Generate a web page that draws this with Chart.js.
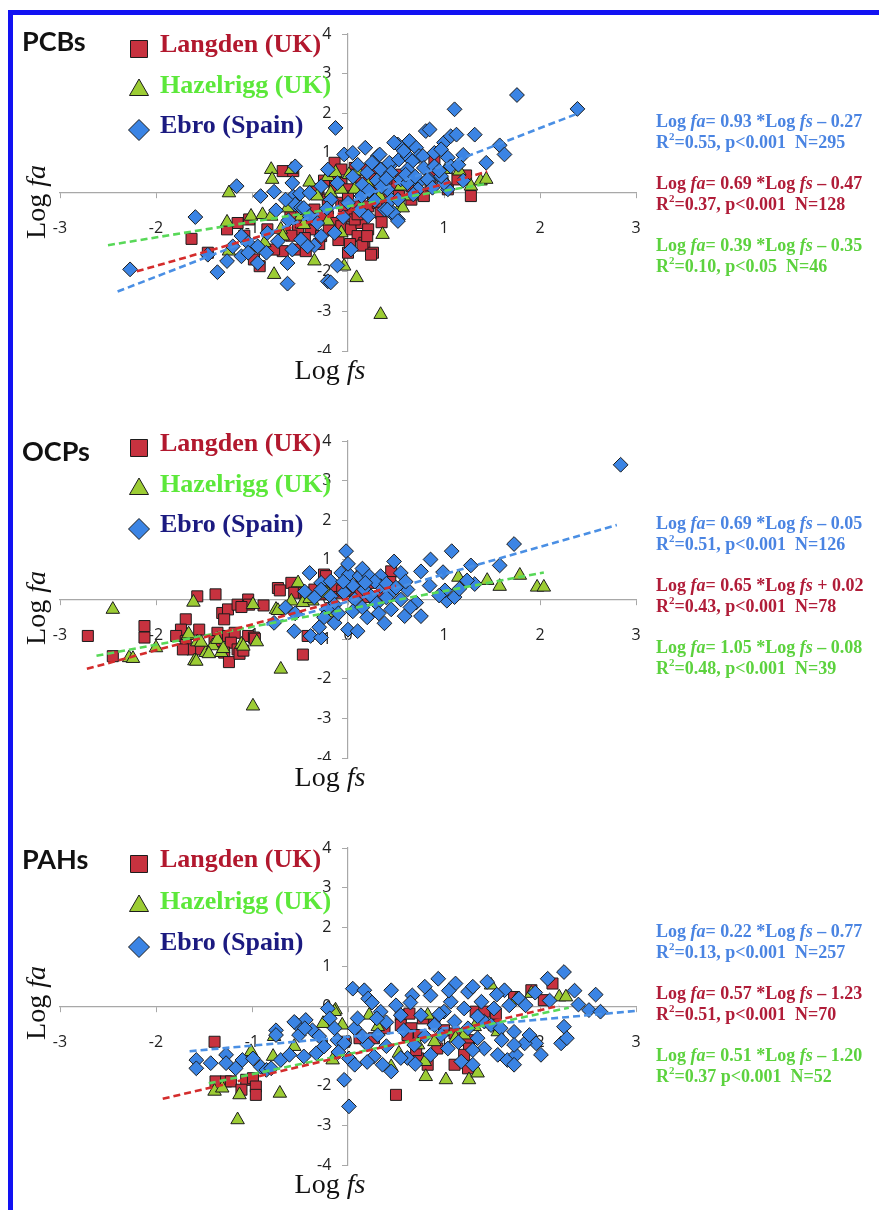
<!DOCTYPE html>
<html>
<head>
<meta charset="utf-8">
<script src="https://cdn.jsdelivr.net/npm/chart.js@4.4.1/dist/chart.umd.min.js"></script>
<style>
html,body{margin:0;padding:0;background:#fff;overflow:hidden;}
#page{position:relative;width:879px;height:1210px;overflow:hidden;}
#frame{position:absolute;left:8px;top:10px;width:900px;height:1300px;border-left:5px solid #1212f2;border-top:5px solid #1212f2;}
canvas{position:absolute;left:0;}
</style>
</head>
<body>
<div id="page">
<div id="frame"></div>
<canvas id="pcbChart" width="879" height="407" style="top:0px"></canvas>
<canvas id="ocpChart" width="879" height="407" style="top:407px"></canvas>
<canvas id="pahChart" width="879" height="407" style="top:814px"></canvas>
</div>
<script>
// sites, always in this order: Langden, Hazelrigg, Ebro
const siteNames = ["Langden (UK)", "Hazelrigg (UK)", "Ebro (Spain)"];
const xRange = [-3, 3];
const yRange = [-4, 4];

// ---- PCBs: [Log fs, Log fa]
const pcbLangden = [[-1.63,-1.17],[-0.68,0.54],[-0.57,0.54],[-1.15,-0.77],[-1.03,-0.68],[-0.98,-1.69],[-0.92,-1.86],[-0.68,-1.48],[-0.54,-1.44],[-0.44,-1.48],[-0.84,-0.93],[-0.66,-1.02],[-0.52,-0.93],[-0.39,-0.93],[-0.28,-1.10],[-0.77,-1.44],[-0.35,-0.68],[-0.21,-0.60],[-0.14,-0.77],[-0.07,-0.85],[0.03,-0.93],[0.14,-0.77],[0.21,-0.93],[0.10,-1.10],[0.17,-1.27],[0.26,-1.52],[0.00,-1.52],[0.15,-1.34],[-0.14,0.75],[-0.07,0.58],[0.07,0.62],[0.17,0.58],[0.24,0.41],[-0.18,0.41],[-0.14,0.16],[-0.07,0.24],[0.00,0.08],[0.14,0.08],[0.21,-0.01],[0.27,0.16],[-0.32,0.08],[-0.21,-0.18],[-0.07,-0.26],[0.07,-0.35],[0.21,-0.35],[0.31,-0.26],[-0.49,-0.43],[-0.35,-0.43],[-0.28,-0.60],[0.90,0.83],[0.86,0.50],[1.28,-0.09],[0.53,-0.09],[0.66,-0.18],[0.79,-0.09],[1.04,0.08],[0.07,0.45],[0.14,0.25],[-0.04,-0.35],[0.00,-0.60],[0.07,-0.68],[0.34,-0.51],[0.41,-0.18],[0.48,0.20],[0.66,0.16],[0.86,0.18],[1.14,0.33],[1.23,0.43],[-0.49,-0.76],[-0.59,-1.09],[-1.26,-0.93],[-1.08,-1.09],[-1.46,-1.52],[0.24,-1.57],[0.00,-0.10],[0.10,-0.55],[-0.20,-0.95],[-0.10,-1.20],[0.20,-1.10],[0.35,-0.75],[-0.45,-1.15],[-0.60,-0.60],[0.40,0.35],[0.55,0.45],[0.30,0.62],[-0.25,0.30],[0.02,-1.30],[-0.30,-1.30]];
const pcbHazelrigg = [[-1.24,-0.01],[-1.26,-0.75],[-0.80,0.58],[-0.79,0.33],[-0.59,0.58],[-0.40,0.26],[-1.24,-1.48],[-1.01,-0.60],[-0.89,-0.56],[-0.80,-0.60],[-0.70,-0.93],[-0.68,-1.10],[-0.87,-1.27],[-0.77,-2.07],[-0.35,-1.73],[-0.04,-1.86],[0.09,-2.15],[0.34,-3.08],[0.36,-1.06],[-0.21,0.40],[-0.13,0.50],[0.01,0.45],[0.10,0.54],[0.21,0.20],[-0.32,-0.09],[-0.18,-0.01],[-0.07,0.08],[0.07,0.08],[0.27,-0.09],[0.38,0.16],[0.55,0.16],[0.66,-0.09],[-0.63,-0.39],[-0.49,-0.60],[-0.07,-1.02],[-0.21,-0.72],[-0.46,-0.81],[0.55,-0.35],[1.02,0.58],[1.16,0.54],[1.28,0.16],[1.38,0.29],[1.44,0.33],[1.00,0.33],[0.33,-0.09],[0.57,-0.39]];
const pcbEbro = [[-2.27,-1.94],[-1.59,-0.62],[-1.36,-2.01],[-1.26,-1.73],[-1.16,0.16],[-1.11,-1.61],[-0.91,-0.09],[-0.77,0.02],[-0.63,-2.30],[-0.58,-1.44],[-0.55,0.66],[-0.57,-0.10],[-0.50,-0.03],[-0.55,-0.30],[-0.49,-0.38],[-0.35,-1.34],[-0.21,-2.24],[-0.18,-2.27],[-0.13,1.63],[-0.04,0.96],[-0.11,-1.84],[0.18,1.13],[0.31,0.92],[0.45,0.71],[0.52,1.21],[0.64,1.30],[0.71,1.13],[0.74,0.92],[0.81,1.55],[0.85,1.59],[1.11,2.10],[1.00,1.26],[1.07,1.42],[1.32,1.46],[0.47,-0.56],[0.52,-0.68],[1.76,2.46],[2.39,2.11],[1.58,1.19],[1.63,0.96],[1.44,0.75],[1.13,1.46],[0.43,0.75],[0.53,0.83],[0.62,0.92],[0.67,0.79],[0.78,0.92],[0.90,1.00],[0.97,1.09],[0.34,0.58],[0.45,0.50],[0.62,0.58],[0.79,0.62],[0.90,0.66],[1.04,0.88],[1.07,0.66],[0.55,0.33],[0.73,0.24],[0.85,0.33],[0.97,0.37],[0.45,-0.18],[0.47,-0.51],[0.52,-0.72],[0.38,-0.43],[0.03,-1.44],[1.04,0.08],[1.00,0.24],[-1.11,-1.10],[-1.04,-1.27],[-0.94,-1.36],[-0.85,-1.52],[-0.84,-1.02],[-0.73,-1.23],[-0.49,-1.19],[-0.42,-1.36],[-0.28,-1.10],[-0.32,-0.77],[-0.14,-1.02],[-0.18,-0.18],[-0.11,0.24],[-0.21,0.58],[-0.28,0.16],[0.00,-0.26],[0.14,-0.09],[0.21,-0.60],[0.41,-0.43],[0.41,0.08],[0.52,-0.18],[0.62,0.24],[0.73,0.08],[0.83,0.33],[0.97,0.41],[0.48,1.26],[0.33,0.96],[-0.65,-0.18],[-0.46,-0.39],[-0.58,0.24],[-0.40,-0.01],[-1.04,-1.52],[-1.46,-1.57],[-1.20,-1.36],[-0.63,-1.78],[-0.94,-1.78],[0.10,0.70],[0.20,0.50],[0.25,0.75],[0.05,0.40],[0.30,0.30],[0.15,0.20],[0.22,0.05],[0.35,0.15],[0.60,0.45],[0.70,0.40],[0.95,0.55],[1.15,0.70],[1.20,0.95],[0.58,1.05],[0.40,0.35],[0.28,-0.20],[0.12,-0.45],[-0.05,-0.62],[-0.22,-0.40],[-0.40,-0.60],[-0.62,-0.70],[-0.75,-0.45],[0.05,1.00],[0.68,-0.05],[0.88,0.12],[1.20,0.30]];
const pcbSlope = [0.69, 0.39, 0.93];
const pcbIntercept = [-0.47, -0.35, -0.27];
const pcbR2 = ["0.37", "0.10", "0.55"];
const pcbP = [", p<0.001", ", p<0.05", ", p<0.001"];
const pcbN = [128, 46, 295];
const pcbLineX = [[-2.2, 1.45], [-2.5, 1.45], [-2.4, 2.4]];
const pcbLineY = [[-1.99, 0.53], [-1.33, 0.22], [-2.5, 2.0]];

// ---- OCPs
const ocpLangden = [[-2.71,-0.92],[-2.12,-0.67],[-2.12,-0.96],[-2.45,-1.43],[-1.57,0.08],[-1.38,0.13],[-1.69,-0.50],[-1.74,-0.76],[-1.79,-0.92],[-1.69,-1.05],[-1.62,-1.26],[-1.53,-1.26],[-1.72,-1.26],[-1.55,-0.76],[-1.31,-0.34],[-1.25,-0.25],[-1.15,-0.13],[-1.04,0.00],[-1.03,-0.13],[-1.29,-0.50],[-1.36,-0.84],[-1.25,-0.92],[-1.18,-0.84],[-1.22,-1.09],[-1.15,-1.26],[-1.29,-1.34],[-1.39,-1.05],[-1.04,-0.92],[-0.98,-0.96],[-0.73,0.29],[-0.59,0.42],[-0.56,0.17],[-0.47,-1.39],[-0.42,-0.92],[-0.25,0.63],[-0.46,0.17],[-0.35,0.25],[-0.28,0.13],[-0.11,0.17],[0.00,0.21],[0.07,0.25],[0.14,0.59],[0.27,0.42],[0.45,0.71],[-0.14,0.34],[-0.23,0.59],[-1.24,-1.58],[-1.13,-1.37],[-1.09,-1.29],[-0.97,-0.99],[-0.71,0.23],[-0.44,0.06],[-0.06,0.23],[0.06,0.31],[0.13,0.14],[0.21,0.06],[0.32,0.06],[0.44,0.44],[-0.02,0.56],[-1.11,-0.19],[-0.88,-0.15]];
const ocpHazelrigg = [[-2.45,-0.25],[-2.28,-1.47],[-2.24,-1.49],[-2.00,-1.22],[-1.61,-0.07],[-1.67,-0.91],[-1.57,-1.07],[-1.60,-1.55],[-1.48,-1.34],[-1.41,-1.17],[-1.36,-1.01],[-1.32,-1.34],[-1.11,-1.13],[-0.99,-0.13],[-0.95,-1.07],[-0.70,-1.76],[-0.99,-2.69],[-0.75,-0.25],[-0.59,-0.04],[-0.52,0.42],[-0.37,-0.04],[-0.23,0.17],[-0.21,-0.34],[-0.47,-0.08],[-0.73,-0.28],[-0.40,0.02],[-0.21,0.14],[1.15,0.56],[1.45,0.48],[1.58,0.33],[1.79,0.61],[1.97,0.31],[2.04,0.31],[-1.45,-1.37],[-1.30,-1.24],[-1.58,-1.56],[-1.09,-1.18],[-1.66,-0.87],[-1.53,-1.08]];
const ocpEbro = [[2.84,3.40],[-0.02,1.22],[-0.40,0.67],[-0.28,0.42],[-0.18,0.46],[-0.07,0.67],[0.01,0.63],[0.12,0.59],[0.22,0.59],[0.48,0.96],[0.55,0.67],[0.34,0.59],[0.76,0.71],[0.86,1.01],[-0.77,-0.59],[-0.56,-0.80],[-0.39,-0.92],[-0.28,-0.96],[-0.14,-0.59],[0.00,-0.76],[0.10,-0.80],[0.59,-0.42],[0.76,-0.42],[0.71,-0.08],[-0.28,0.25],[-0.18,0.08],[-0.14,-0.13],[-0.04,0.17],[0.07,0.00],[0.17,0.25],[0.24,0.08],[0.34,0.34],[0.45,0.17],[0.55,0.00],[0.62,0.25],[1.08,1.22],[1.28,0.86],[1.58,0.86],[1.73,1.40],[0.99,0.69],[1.32,0.39],[1.03,-0.03],[1.11,0.06],[1.24,0.48],[1.01,0.23],[1.16,0.27],[-0.45,0.20],[-0.35,0.05],[-0.22,-0.25],[-0.10,-0.35],[0.05,-0.30],[0.15,-0.20],[0.30,-0.10],[0.40,0.05],[0.28,0.45],[0.40,0.40],[0.50,0.30],[0.60,0.45],[0.05,0.35],[-0.05,0.45],[0.18,0.42],[0.32,-0.35],[0.45,-0.25],[0.20,-0.45],[-0.25,-0.45],[0.65,-0.20],[0.00,0.90],[0.15,0.78],[-0.55,-0.35],[-0.65,-0.20],[-0.30,-0.70],[0.38,-0.60],[0.85,0.35],[0.95,0.10]];
const ocpSlope = [0.65, 1.05, 0.69];
const ocpIntercept = [0.02, -0.08, -0.05];
const ocpR2 = ["0.43", "0.48", "0.51"];
const ocpP = [", p<0.001", ", p<0.001", ", p<0.001"];
const ocpN = [78, 39, 126];
const ocpLineX = [[-2.72, 0.5], [-2.62, 2.04], [-0.85, 2.8]];
const ocpLineY = [[-1.75, 0.35], [-1.42, 0.68], [-0.64, 1.88]];

// ---- PAHs
const pahLangden = [[-1.39,-0.89],[-1.38,-1.89],[-1.27,-1.89],[-1.22,-1.89],[-1.06,-1.85],[-0.99,-1.81],[-1.11,-2.10],[-0.96,-2.02],[-0.96,-2.23],[0.50,-2.23],[-0.04,-0.89],[0.12,-0.80],[0.27,-0.80],[0.38,-0.55],[0.55,-0.22],[0.55,-0.47],[0.66,-0.55],[0.62,-0.72],[0.64,-0.18],[0.78,-0.30],[0.90,-0.43],[1.00,-0.60],[1.11,-0.68],[1.25,-0.85],[1.26,-1.06],[1.33,-0.13],[1.42,-0.13],[1.54,-0.18],[1.52,-0.47],[1.21,-1.22],[1.11,-1.47],[1.25,-1.56],[0.73,-1.31],[0.83,-1.47],[0.74,-0.72],[1.91,0.41],[2.04,0.16],[2.13,0.58],[1.73,0.24],[0.71,-1.10],[0.93,-1.06]];
const pahHazelrigg = [[-1.39,-2.14],[-1.31,-2.06],[-1.13,-2.23],[-1.15,-2.86],[-1.01,-1.14],[-0.78,-1.26],[-0.71,-2.19],[-0.77,-0.76],[-0.56,-1.01],[-0.26,-0.43],[-0.16,-1.35],[-0.13,-0.09],[-0.06,-0.47],[0.22,-0.22],[0.31,-0.51],[0.45,-1.52],[0.53,-1.18],[-0.14,-0.13],[0.83,-0.22],[1.12,-0.80],[1.21,-0.72],[1.32,-0.51],[1.49,0.54],[1.56,-0.64],[1.75,0.16],[1.91,0.33],[2.20,0.24],[2.27,0.24],[0.81,-1.77],[1.02,-1.85],[1.26,-1.85],[1.35,-1.68],[0.90,-0.89],[0.73,-0.97],[0.80,-1.39]];
const pahEbro = [[-1.58,-1.35],[-1.58,-1.56],[-1.43,-1.43],[-1.27,-1.22],[-1.27,-1.43],[-1.17,-1.56],[-1.10,-1.35],[-0.99,-1.31],[-0.91,-1.52],[-0.85,-1.60],[-0.80,-1.56],[-0.75,-0.60],[-0.75,-0.72],[-0.70,-1.35],[-0.61,-1.22],[-0.54,-0.43],[-0.44,-0.34],[-0.37,-0.60],[-0.51,-0.72],[-0.46,-1.26],[-0.33,-1.18],[-0.25,-1.01],[-0.21,-0.05],[-0.19,-0.30],[-0.14,-0.55],[-0.11,-0.85],[-0.04,-0.93],[-0.04,-1.85],[0.01,-2.52],[0.01,-1.31],[0.07,-1.47],[0.05,0.45],[0.07,-0.55],[0.10,-0.30],[0.17,0.41],[0.21,0.20],[0.27,-1.26],[0.31,-0.72],[0.34,-0.13],[0.36,-1.47],[0.45,0.41],[0.45,-1.64],[0.50,0.03],[0.55,-0.22],[0.67,0.28],[0.94,0.70],[1.12,0.58],[1.25,0.37],[1.45,0.62],[1.63,0.41],[1.78,0.20],[2.08,0.70],[2.25,0.87],[2.36,0.40],[2.58,0.30],[2.51,-0.09],[2.63,-0.13],[2.25,-0.51],[2.22,-0.93],[2.28,-0.80],[0.86,0.28],[1.07,0.12],[1.21,-0.05],[1.39,0.12],[1.52,-0.05],[1.68,0.03],[1.85,0.03],[1.25,-0.55],[1.35,-0.80],[1.42,-1.06],[1.30,-1.10],[1.18,-1.39],[1.30,-1.47],[1.56,-1.22],[1.66,-1.35],[1.75,-1.22],[1.73,-1.47],[1.96,-0.93],[2.01,-1.22],[1.84,-0.93],[1.89,-0.72],[0.76,-0.22],[0.90,-0.47],[0.97,-0.72],[1.04,-1.06],[0.86,-1.22],[0.69,-0.97],[1.00,-0.13],[1.11,-0.38],[1.42,-0.38],[1.49,-0.47],[1.59,-0.55],[1.73,-0.64],[1.73,-0.97],[-0.45,-0.55],[-0.56,-0.39],[0.25,0.10],[0.40,-0.40],[0.58,-0.60],[0.62,-1.30],[0.20,-0.95],[0.15,-0.75],[0.40,-1.00],[0.55,-1.30],[0.80,-0.75],[0.95,-0.20],[1.15,-0.90],[1.35,-0.25],[1.60,-0.85],[0.30,-0.30],[0.65,0.10],[0.80,0.50],[1.05,0.40],[1.30,0.50],[1.55,0.30],[1.95,0.35],[2.10,0.15],[-0.30,-0.75],[-0.10,-1.15],[0.20,-1.40],[0.70,-1.45],[2.40,0.05]];
const pahSlope = [0.57, 0.51, 0.22];
const pahIntercept = [-1.23, -1.20, -0.77];
const pahR2 = ["0.51", "0.37", "0.13"];
const pahP = [", p<0.001", " p<0.001", ", p<0.001"];
const pahN = [70, 52, 257];
const pahLineX = [[-1.93, 2.2], [-1.45, 2.3], [-1.65, 3.0]];
const pahLineY = [[-2.33, 0.02], [-1.94, -0.03], [-1.13, -0.11]];

// marker + colour settings per site
const markerStyle = ["rect", "triangle", "rectRot"];
const markerRadius = [7.8, 7.8, 7.4];
const legendRadius = [12, 11, 10.5];
const markerFill = ["#c7323f", "#9ccc34", "#3b84e4"];
const trendColor = ["#d42c2c", "#58d858", "#4a8fe4"];
const legendTextColor = ["#b2182e", "#5ce83a", "#1b1a80"];
const eqTextColor = ["#b01c38", "#5cd23e", "#4a84e2"];
const eqOrder = [2, 0, 1];

const serif = "'Liberation Serif', 'Times New Roman', serif";

Chart.defaults.font.family = "'Open Sans', sans-serif";

function toPoints(list){
    return list.map(p => ({x: p[0], y: p[1]}));
}

function runFont(style, size, weight){
    if(style === "sup")
        return weight + " " + Math.round(size * 0.62) + "px " + serif;
    if(style === "i")
        return "italic " + weight + " " + size + "px " + serif;
    return weight + " " + size + "px " + serif;
}

// draw a row of text pieces (normal / italic / superscript)
function drawRuns(ctx, runs, x, y, size, weight, center){
    let total = 0;
    runs.forEach(r => {
        ctx.font = runFont(r[1], size, weight);
        total += ctx.measureText(r[0]).width;
    });
    let cx = center ? x - total / 2 : x;
    runs.forEach(r => {
        ctx.font = runFont(r[1], size, weight);
        let dy = r[1] === "sup" ? -size * 0.32 : 0;
        ctx.fillText(r[0], cx, y + dy);
        cx += ctx.measureText(r[0]).width;
    });
}

function drawDecor(chart, p){
    const ctx = chart.ctx;
    ctx.save();
    ctx.textBaseline = "middle";
    ctx.textAlign = "left";

    // group name
    ctx.fillStyle = "#111";
    ctx.font = "bold 27px Lato, 'Open Sans', sans-serif";
    ctx.fillText(p.name, 22, p.nameY);

    // legend
    for(let i = 0; i < 3; i++){
        let y = p.legendY[i];
        ctx.fillStyle = markerFill[i];
        ctx.strokeStyle = "#1c1c1c";
        ctx.lineWidth = 1;
        Chart.helpers.drawPoint(ctx, {
            pointStyle: markerStyle[i],
            radius: legendRadius[i],
            rotation: 0,
            borderWidth: 1
        }, 139, y + 4);
        ctx.fillStyle = legendTextColor[i];
        ctx.font = "bold 26px " + serif;
        ctx.fillText(siteNames[i], 160, y);
    }

    // regression equations, Ebro first
    eqOrder.forEach((s, k) => {
        let y = p.eqTop + k * 62;
        let b = p.intercept[s];
        let sign = b < 0 ? "\u2013" : "+";
        ctx.fillStyle = eqTextColor[s];
        drawRuns(ctx, [
            ["Log ", ""], ["fa", "i"],
            ["= " + p.slope[s].toFixed(2) + " *Log ", ""], ["fs", "i"],
            [" " + sign + " " + Math.abs(b).toFixed(2), ""]
        ], 656, y, 18, "bold", false);
        drawRuns(ctx, [
            ["R", ""], ["2", "sup"],
            ["=" + p.r2[s] + p.p[s] + "  N=" + p.n[s], ""]
        ], 656, y + 21, 18, "bold", false);
    });

    // axis titles
    ctx.fillStyle = "#111";
    ctx.save();
    ctx.translate(38, p.faY);
    ctx.rotate(-Math.PI / 2);
    drawRuns(ctx, [["Log ", ""], ["fa", "i"]], 0, 0, 28, "normal", true);
    ctx.restore();

    if(p.cover){
        ctx.fillStyle = "#fff";
        ctx.fillRect(296, 353, 80, 34);
        ctx.fillStyle = "#111";
    }
    drawRuns(ctx, [["Log ", ""], ["fs", "i"]], 330, 372, 28, "normal", true);

    ctx.restore();
}

function makePanel(canvasId, p){

    let datasets = [];

    // dashed regression lines on top
    for(let i = 0; i < 3; i++){
        datasets.push({
            type: "line",
            data: [
                {x: p.lineX[i][0], y: p.lineY[i][0]},
                {x: p.lineX[i][1], y: p.lineY[i][1]}
            ],
            borderColor: trendColor[i],
            borderWidth: 2.6,
            borderDash: [7, 4],
            pointRadius: 0,
            fill: false,
            order: 0
        });
    }

    for(let i = 0; i < 3; i++){
        datasets.push({
            label: siteNames[i],
            data: toPoints(p.points[i]),
            pointStyle: markerStyle[i],
            pointRadius: markerRadius[i],
            backgroundColor: markerFill[i],
            borderColor: "#1c1c1c",
            borderWidth: 1,
            order: 3 - i
        });
    }

    const axisColor = "#a8a8a8";

    return new Chart(document.getElementById(canvasId), {
        type: "scatter",
        data: {datasets: datasets},
        options: {
            responsive: false,
            animation: false,
            events: [],
            layout: {padding: {left: 60, right: 243, top: 34, bottom: 56}},
            plugins: {
                legend: {display: false},
                tooltip: {enabled: false}
            },
            scales: {
                x: {
                    type: "linear",
                    position: {y: 0},
                    min: xRange[0],
                    max: xRange[1],
                    ticks: {stepSize: 1, padding: 21, color: "#222", font: {size: 16}, maxRotation: 0},
                    grid: {drawOnChartArea: false, tickLength: 5, color: axisColor},
                    border: {color: axisColor, width: 1.2}
                },
                y: {
                    type: "linear",
                    position: {x: 0},
                    min: yRange[0],
                    max: yRange[1],
                    ticks: {
                        stepSize: 1, color: "#222", font: {size: 16},
                        // labels sit right-aligned on the axis, so pad them away from it
                        callback: v => v + "    "
                    },
                    grid: {drawOnChartArea: false, tickLength: 5, color: axisColor},
                    border: {color: axisColor, width: 1.2}
                }
            }
        },
        plugins: [{
            id: "decor",
            afterDraw(chart){ drawDecor(chart, p); }
        }]
    });
}

makePanel("pcbChart", {
    name: "PCBs", nameY: 42,
    points: [pcbLangden, pcbHazelrigg, pcbEbro],
    lineX: pcbLineX, lineY: pcbLineY,
    slope: pcbSlope, intercept: pcbIntercept, r2: pcbR2, p: pcbP, n: pcbN,
    legendY: [45, 86, 126], eqTop: 122, faY: 202, cover: true
});

makePanel("ocpChart", {
    name: "OCPs", nameY: 45,
    points: [ocpLangden, ocpHazelrigg, ocpEbro],
    lineX: ocpLineX, lineY: ocpLineY,
    slope: ocpSlope, intercept: ocpIntercept, r2: ocpR2, p: ocpP, n: ocpN,
    legendY: [37, 78, 118], eqTop: 117, faY: 201, cover: true
});

makePanel("pahChart", {
    name: "PAHs", nameY: 46,
    points: [pahLangden, pahHazelrigg, pahEbro],
    lineX: pahLineX, lineY: pahLineY,
    slope: pahSlope, intercept: pahIntercept, r2: pahR2, p: pahP, n: pahN,
    legendY: [46, 88, 129], eqTop: 118, faY: 189, cover: false
});
</script>
</body>
</html>
